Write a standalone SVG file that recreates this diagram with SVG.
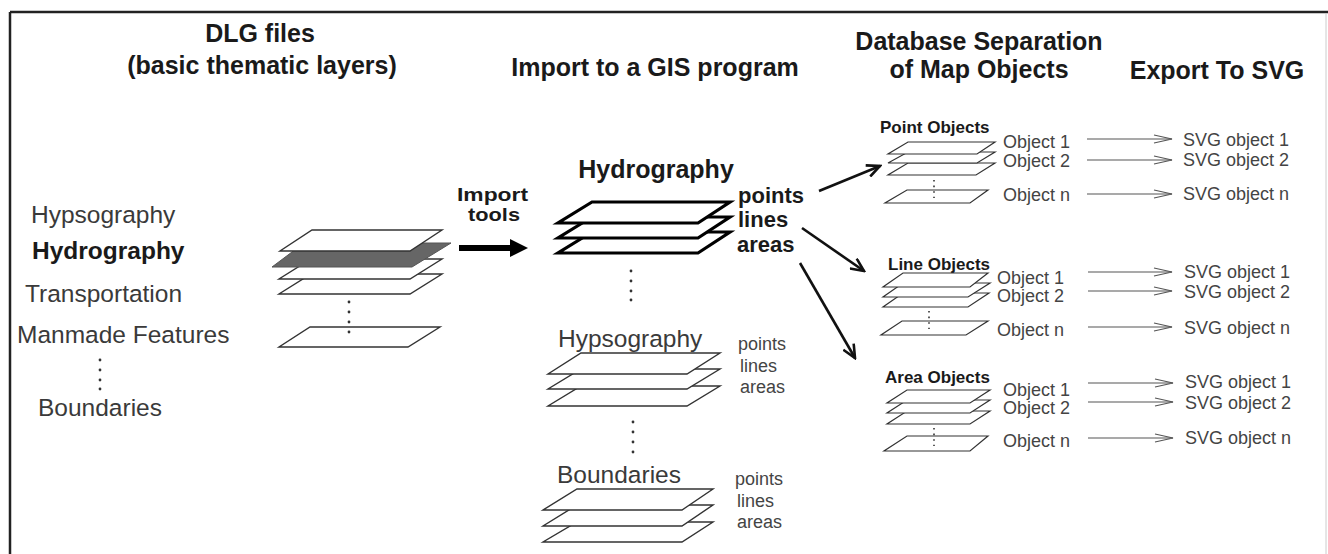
<svg xmlns="http://www.w3.org/2000/svg" width="1328" height="554" viewBox="0 0 1328 554">
<defs>
<style>
text{font-family:"Liberation Sans",Arial,sans-serif;}
.t{font-weight:bold;font-size:25px;fill:#1a1a1a;text-anchor:middle;}
.lst{font-size:24.5px;fill:#3a3a3a;}
.b{font-weight:bold;fill:#1a1a1a;}
.sm{font-size:18px;fill:#444;}
.ob{font-size:18px;fill:#444;}
.gh{font-weight:bold;font-size:17px;fill:#1a1a1a;}
.ly{fill:#fff;stroke:#333;stroke-width:1.4;stroke-linejoin:miter;}
.lys{fill:#fff;stroke:#333;stroke-width:1.2;}
.hy{fill:#fff;stroke:#000;stroke-width:3.2;stroke-linejoin:miter;}
.dot{fill:#333;}
.dl{stroke:#333;stroke-width:1.6;stroke-dasharray:1.6 4;}
.big{stroke:#111;stroke-width:2.6;fill:none;}
.sa{stroke:#555;stroke-width:1.2;fill:none;}
</style>
<marker id="bh" markerUnits="userSpaceOnUse" markerWidth="16" markerHeight="14" viewBox="0 0 16 14" refX="14" refY="7" orient="auto">
<path d="M1,1 L14,7 L1,13" fill="none" stroke="#111" stroke-width="2.6"/>
</marker>
<marker id="sh" markerUnits="userSpaceOnUse" markerWidth="20" markerHeight="10" viewBox="0 0 20 10" refX="19" refY="5" orient="auto">
<path d="M1,1 L19,5 L1,9" fill="none" stroke="#555" stroke-width="1.2"/>
</marker>
</defs>
<rect width="1328" height="554" fill="#fff"/>
<g id="frame">
<line x1="10" y1="12" x2="1328" y2="12" stroke="#222" stroke-width="2.5"/>
<line x1="10" y1="12" x2="10" y2="554" stroke="#222" stroke-width="2.5"/>
<line x1="1326" y1="14" x2="1326" y2="554" stroke="#ccc" stroke-width="1"/>
</g>
<g id="titles">
<text class="t" x="260" y="42">DLG files</text>
<text class="t" x="262" y="74">(basic thematic layers)</text>
<text class="t" x="655" y="76">Import to a GIS program</text>
<text class="t" x="979" y="50">Database Separation</text>
<text class="t" x="979" y="78">of Map Objects</text>
<text class="t" x="1217" y="79">Export To SVG</text>
</g>
<g id="dlg-list">
<text class="lst" x="31" y="223">Hypsography</text>
<text class="lst b" x="32" y="259">Hydrography</text>
<text class="lst" x="25" y="302">Transportation</text>
<text class="lst" x="17" y="343">Manmade Features</text>
<circle class="dot" cx="100" cy="360" r="1.4"/><circle class="dot" cx="100" cy="370" r="1.4"/><circle class="dot" cx="100" cy="380" r="1.4"/><circle class="dot" cx="100" cy="389" r="1.4"/>
<text class="lst" x="38" y="416">Boundaries</text>
</g>
<g id="dlg-stack">
<path class="ly" d="M310,327 L440,327 L408,347 L279,347 Z"/>
<path class="ly" d="M311,274 L442,274 L410,294 L279,294 Z"/>
<path class="ly" d="M311,259 L442,259 L410,279 L279,279 Z"/>
<path d="M304,243 L451,243 L412,267 L272,267 Z" fill="#666" stroke="#555" stroke-width="1"/>
<path class="ly" d="M312,230 L442,230 L410,251 L280,251 Z"/>
<circle class="dot" cx="349" cy="302" r="1.4"/><circle class="dot" cx="349" cy="312" r="1.4"/><circle class="dot" cx="349" cy="322" r="1.4"/><circle class="dot" cx="349" cy="332" r="1.4"/>
</g>
<g id="import-tools">
<text class="b" font-size="19" x="457" y="201" textLength="71" lengthAdjust="spacingAndGlyphs">Import</text>
<text class="b" font-size="19" x="468" y="221" textLength="52" lengthAdjust="spacingAndGlyphs">tools</text>
<line x1="459" y1="248" x2="512" y2="248" stroke="#000" stroke-width="6"/>
<path d="M510,239 L528,248 L510,257 Z" fill="#000"/>
</g>
<g id="gis-hydrography">
<text class="b" font-size="25" text-anchor="middle" x="656" y="178">Hydrography</text>
<path class="hy" d="M592,232 L730,232 L698,253 L558,253 Z"/>
<path class="hy" d="M592,217 L730,217 L698,238 L558,238 Z"/>
<path class="hy" d="M592,202 L730,202 L698,223 L558,223 Z"/>
<text class="b" font-size="22" x="738" y="203">points</text>
<text class="b" font-size="22" x="738" y="227">lines</text>
<text class="b" font-size="22" x="737" y="252">areas</text>
<circle class="dot" cx="631" cy="271" r="1.4"/><circle class="dot" cx="631" cy="281" r="1.4"/><circle class="dot" cx="631" cy="291" r="1.4"/><circle class="dot" cx="631" cy="300" r="1.4"/>
</g>
<g id="gis-hypsography">
<text class="lst" font-size="25" x="558" y="347">Hypsography</text>
<path class="ly" d="M581,386 L720,386 L687,406 L548,406 Z"/>
<path class="ly" d="M581,369 L720,369 L687,389 L548,389 Z"/>
<path class="ly" d="M581,353 L720,353 L687,374 L548,374 Z"/>
<text class="sm" x="738" y="350">points</text>
<text class="sm" x="740" y="372">lines</text>
<text class="sm" x="740" y="393">areas</text>
<circle class="dot" cx="633" cy="422" r="1.4"/><circle class="dot" cx="633" cy="432" r="1.4"/><circle class="dot" cx="633" cy="442" r="1.4"/><circle class="dot" cx="633" cy="452" r="1.4"/>
</g>
<g id="gis-boundaries">
<text class="lst" font-size="25" x="557" y="483">Boundaries</text>
<path class="ly" d="M577,522 L713,522 L682,542 L543,542 Z"/>
<path class="ly" d="M577,505 L713,505 L682,526 L543,526 Z"/>
<path class="ly" d="M577,489 L713,489 L682,510 L543,510 Z"/>
<text class="sm" x="735" y="485">points</text>
<text class="sm" x="737" y="507">lines</text>
<text class="sm" x="737" y="528">areas</text>
</g>
<g id="point-objects">
<text class="gh" x="880" y="133">Point Objects</text>
<path class="lys" d="M907,190 L988,190 L970,203 L885,203 Z"/>
<path class="lys" d="M908,163 L995,163 L976,175 L888,175 Z"/>
<path class="lys" d="M908,152 L995,152 L977,163 L888,163 Z"/>
<path class="lys" d="M908,142 L995,142 L977,154 L888,154 Z"/>
<line class="dl" x1="934" y1="180" x2="934" y2="198"/>
<text class="ob" x="1003" y="148">Object 1</text>
<text class="ob" x="1003" y="167">Object 2</text>
<text class="ob" x="1003" y="201">Object n</text>
<text class="ob" x="1183" y="146">SVG object 1</text>
<text class="ob" x="1183" y="166">SVG object 2</text>
<text class="ob" x="1183" y="200">SVG object n</text>
</g>
<g id="line-objects">
<text class="gh" x="888" y="270">Line Objects</text>
<path class="lys" d="M902,321 L988,321 L966,335 L881,335 Z"/>
<path class="lys" d="M903,293 L989,293 L968,307 L883,307 Z"/>
<path class="lys" d="M903,283 L990,283 L968,297 L883,297 Z"/>
<path class="lys" d="M903,273 L988,273 L970,287 L883,287 Z"/>
<line class="dl" x1="929" y1="311" x2="929" y2="329"/>
<text class="ob" x="997" y="284">Object 1</text>
<text class="ob" x="997" y="302">Object 2</text>
<text class="ob" x="997" y="336">Object n</text>
<text class="ob" x="1184" y="278">SVG object 1</text>
<text class="ob" x="1184" y="298">SVG object 2</text>
<text class="ob" x="1184" y="334">SVG object n</text>
</g>
<g id="area-objects">
<text class="gh" x="885" y="383">Area Objects</text>
<path class="lys" d="M907,436 L988,436 L970,451 L884,451 Z"/>
<path class="lys" d="M907,411 L990,411 L970,424 L887,424 Z"/>
<path class="lys" d="M907,400 L990,400 L970,413 L887,413 Z"/>
<path class="lys" d="M907,390 L990,390 L970,403 L887,403 Z"/>
<line class="dl" x1="934" y1="428" x2="934" y2="446"/>
<text class="ob" x="1003" y="396">Object 1</text>
<text class="ob" x="1003" y="414">Object 2</text>
<text class="ob" x="1003" y="447">Object n</text>
<text class="ob" x="1185" y="388">SVG object 1</text>
<text class="ob" x="1185" y="409">SVG object 2</text>
<text class="ob" x="1185" y="444">SVG object n</text>
</g>
<g id="connectors">
<line class="big" x1="819" y1="191" x2="880" y2="166" marker-end="url(#bh)"/>
<line class="big" x1="802" y1="228" x2="864" y2="271" marker-end="url(#bh)"/>
<line class="big" x1="800" y1="263" x2="855" y2="358" marker-end="url(#bh)"/>
<line class="sa" x1="1087" y1="139" x2="1172" y2="139" marker-end="url(#sh)"/>
<line class="sa" x1="1087" y1="160" x2="1172" y2="160" marker-end="url(#sh)"/>
<line class="sa" x1="1087" y1="194" x2="1172" y2="194" marker-end="url(#sh)"/>
<line class="sa" x1="1088" y1="272" x2="1172" y2="272" marker-end="url(#sh)"/>
<line class="sa" x1="1088" y1="291" x2="1172" y2="291" marker-end="url(#sh)"/>
<line class="sa" x1="1088" y1="327" x2="1172" y2="327" marker-end="url(#sh)"/>
<line class="sa" x1="1088" y1="383" x2="1173" y2="383" marker-end="url(#sh)"/>
<line class="sa" x1="1088" y1="402" x2="1173" y2="402" marker-end="url(#sh)"/>
<line class="sa" x1="1088" y1="438" x2="1173" y2="438" marker-end="url(#sh)"/>
</g>
</svg>
